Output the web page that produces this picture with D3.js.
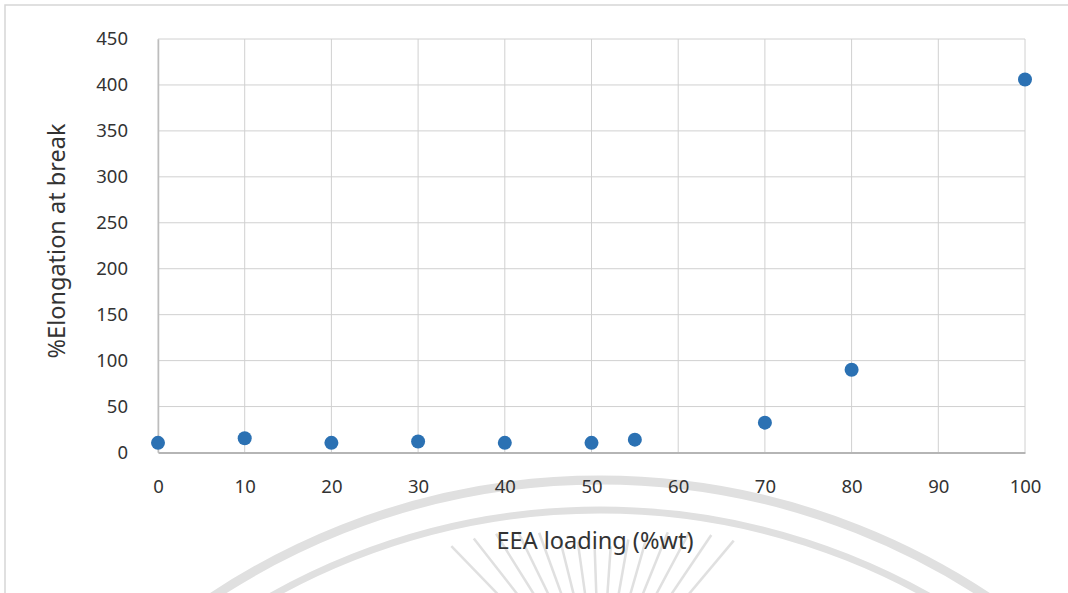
<!DOCTYPE html>
<html>
<head>
<meta charset="utf-8">
<script src="https://cdn.jsdelivr.net/npm/d3@7/dist/d3.min.js"></script>
<style>
  html, body { margin: 0; padding: 0; background: #ffffff; }
  svg { display: block; }
  text { font-family: "Noto Sans", "Open Sans", sans-serif; fill: #333; }
</style>
</head>
<body>
<svg id="chart" width="1068" height="593"></svg>
<script>
// EEA loading (%wt) and elongation at break (%)
const loadings = [0, 10, 20, 30, 40, 50, 55, 70, 80, 100];
const elongation = [10.5, 15.5, 10.5, 12, 10.5, 10.5, 14, 32.5, 90, 406];
const xTicks = [0, 10, 20, 30, 40, 50, 60, 70, 80, 90, 100];
const yTicks = [0, 50, 100, 150, 200, 250, 300, 350, 400, 450];

const svg = d3.select("#chart");
const W = 1068, H = 593;
const plot = { left: 158, right: 1025, top: 39, bottom: 452.5 };

// page frame
svg.append("path")
  .attr("d", `M5,${H} L5,5 L${W},5`)
  .attr("fill", "none").attr("stroke", "#d6d6d6").attr("stroke-width", 1.5);

// faint seal in the background
const seal = svg.append("g").attr("fill", "none").attr("stroke", "#e0e0e0");
const cx = 600, cy = 1180;
[700, 670].forEach((r, i) => {
  seal.append("circle").attr("cx", cx).attr("cy", cy).attr("r", r)
    .attr("stroke-width", i === 0 ? 9 : 7);
});
// sun rays pointing towards the seal centre
const rx = 600, ry = 700;
d3.range(-44, 45, 6).forEach(a => {
  const t = (a - 90) * Math.PI / 180;
  const r0 = 148 + Math.abs(a) * 1.5, r1 = 90;
  seal.append("line")
    .attr("x1", rx + r0 * Math.cos(t)).attr("y1", ry + r0 * Math.sin(t))
    .attr("x2", rx + r1 * Math.cos(t)).attr("y2", ry + r1 * Math.sin(t))
    .attr("stroke-width", 2.5);
});

const x = d3.scaleLinear().domain([0, 100]).range([plot.left, plot.right]);
const y = d3.scaleLinear().domain([0, 450]).range([plot.bottom, plot.top]);

// gridlines
const grid = svg.append("g").attr("stroke", "#d0d0d0").attr("stroke-width", 1);
xTicks.forEach(v => grid.append("line")
  .attr("x1", x(v)).attr("x2", x(v)).attr("y1", y(450)).attr("y2", y(0)));
yTicks.forEach(v => grid.append("line")
  .attr("x1", x(0)).attr("x2", x(100)).attr("y1", y(v)).attr("y2", y(v)));

// axes
const xAxis = svg.append("g")
  .attr("transform", `translate(0,${plot.bottom})`)
  .call(d3.axisBottom(x).tickValues(xTicks).tickSize(0).tickPadding(27));
xAxis.select(".domain").attr("stroke", "#b5b5b5").attr("stroke-width", 2);
xAxis.selectAll("text").style("font-size", "18.5px").attr("fill", "#333");

const yAxis = svg.append("g")
  .attr("transform", `translate(${plot.left},0)`)
  .call(d3.axisLeft(y).tickValues(yTicks).tickSize(0).tickPadding(30));
yAxis.select(".domain").attr("stroke", "#bdbdbd").attr("stroke-width", 1.5);
yAxis.selectAll("text").style("font-size", "18.5px").attr("fill", "#333");

// axis titles
svg.append("text")
  .attr("x", 595).attr("y", 549)
  .attr("text-anchor", "middle")
  .style("font-size", "23.5px")
  .text("EEA loading (%wt)");

svg.append("text")
  .attr("transform", "translate(65,241) rotate(-90)")
  .attr("text-anchor", "middle")
  .style("font-size", "23.5px")
  .text("%Elongation at break");

// data points
svg.append("g").selectAll("circle")
  .data(loadings.map((v, i) => ({ x: v, y: elongation[i] })))
  .join("circle")
  .attr("cx", d => x(d.x))
  .attr("cy", d => y(d.y))
  .attr("r", 7)
  .attr("fill", "#2b71b3");
</script>
</body>
</html>
